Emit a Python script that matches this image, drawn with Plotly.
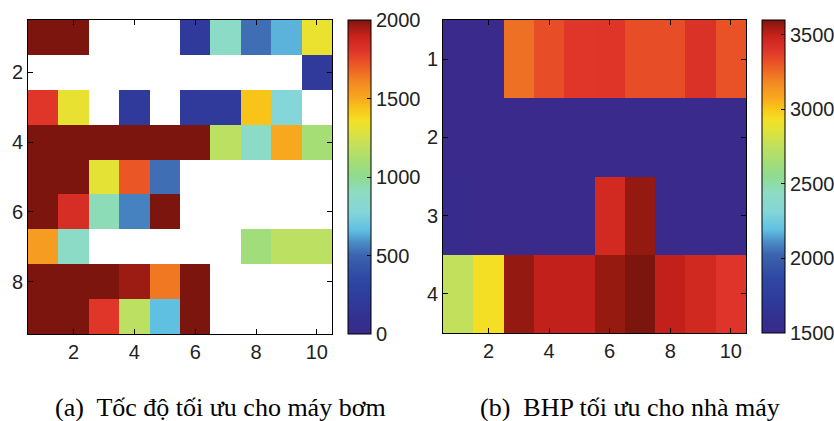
import plotly.graph_objects as go

nan = None
W, H = 834, 421

# ---- data ----
cols = list(range(1, 11))
rows_a = list(range(1, 10))
rows_b = list(range(1, 5))

pump_rate = [
    [2000, 2000, nan, nan, nan, 200, 880, 520, 640, 1330],
    [nan, nan, nan, nan, nan, nan, nan, nan, nan, 200],
    [1800, 1320, nan, 200, nan, 200, 200, 1440, 780, nan],
    [2000, 2000, 2000, 2000, 2000, 2000, 1180, 880, 1500, 1100],
    [2000, 2000, 1310, 1720, 520, nan, nan, nan, nan, nan],
    [2000, 1840, 920, 560, 2000, nan, nan, nan, nan, nan],
    [1540, 880, nan, nan, nan, nan, nan, 1080, 1180, 1180],
    [2000, 2000, 2000, 1960, 1640, 2000, nan, nan, nan, nan],
    [2000, 2000, 1800, 1180, 660, 2000, nan, nan, nan, nan],
]

bhp = [
    [1500, 1500, 3243, 3327, 3390, 3395, 3330, 3330, 3410, 3316],
    [1500, 1500, 1500, 1500, 1500, 1500, 1500, 1500, 1500, 1500],
    [1540, 1500, 1500, 1500, 1500, 3453, 3570, 1500, 1500, 1500],
    [2760, 2930, 3570, 3505, 3505, 3565, 3600, 3505, 3460, 3400],
]

x_ticks = [2, 4, 6, 8, 10]
ya_ticks = [2, 4, 6, 8]
yb_ticks = [1, 2, 3, 4]
cba_ticks = [0, 500, 1000, 1500, 2000]
cbb_ticks = [1500, 2000, 2500, 3000, 3500]

caption_a = "(a)\u00a0 Tốc độ tối ưu cho máy bơm"
caption_b = "(b)\u00a0 BHP tối ưu cho nhà máy"

cscale = [
    [0.00, "#392a8b"],
    [0.05, "#33308f"],
    [0.10, "#2f3a9b"],
    [0.18, "#2e49a3"],
    [0.25, "#3b64af"],
    [0.29, "#4a8ac6"],
    [0.33, "#60c0e2"],
    [0.39, "#85d6d8"],
    [0.45, "#8ddcc2"],
    [0.50, "#8fdb90"],
    [0.55, "#a5de74"],
    [0.60, "#c2e05c"],
    [0.65, "#e2e239"],
    [0.68, "#f4e024"],
    [0.72, "#f9c41a"],
    [0.75, "#f8a81f"],
    [0.80, "#f28a22"],
    [0.85, "#ec5e25"],
    [0.90, "#e0362a"],
    [0.95, "#c8221b"],
    [0.98, "#9c1b12"],
    [1.00, "#7c150e"],
]

tickfont = dict(family="Liberation Sans, Arial, sans-serif", size=20, color="#222222")
capfont = dict(family="Liberation Serif, Times New Roman, serif", size=26, color="black")


def px_x(a, b):
    return [a / W, b / W]


def px_y(top, bottom):
    return [(H - bottom) / H, (H - top) / H]


fig = go.Figure()

axA = (28, 332, 20, 334)
axB = (443, 746, 20, 333)
cbA = (348, 371)
cbB = (762, 785)


def cbar(cb, ax, ticks):
    return dict(
        x=cb[0] / W, xanchor="left", xref="paper",
        y=(H - (ax[2] + ax[3]) / 2) / H, yanchor="middle",
        thickness=cb[1] - cb[0], thicknessmode="pixels",
        len=ax[3] - ax[2], lenmode="pixels",
        outlinewidth=1, outlinecolor="black",
        tickvals=ticks, ticks="inside", ticklen=4, tickcolor="black",
        tickfont=tickfont, xpad=0, ypad=0,
    )


fig.add_trace(go.Heatmap(
    z=pump_rate, x=cols, y=rows_a, zmin=0, zmax=2000,
    colorscale=cscale, xaxis="x", yaxis="y", hoverongaps=False,
    colorbar=cbar(cbA, axA, cba_ticks),
))

fig.add_trace(go.Heatmap(
    z=bhp, x=cols, y=rows_b, zmin=1500, zmax=3600,
    colorscale=cscale, xaxis="x2", yaxis="y2",
    colorbar=cbar(cbB, axB, cbb_ticks),
))

axis_common = dict(
    showline=True, linecolor="black", linewidth=1, mirror="ticks",
    ticks="inside", ticklen=5, tickcolor="black", showgrid=False,
    zeroline=False, tickfont=tickfont, automargin=False,
)

fig.update_layout(
    width=W, height=H,
    margin=dict(l=0, r=0, t=0, b=0, autoexpand=False),
    paper_bgcolor="white", plot_bgcolor="white",
    xaxis=dict(domain=px_x(axA[0], axA[1]), range=[0.5, 10.5], tickvals=x_ticks,
               anchor="y", **axis_common),
    yaxis=dict(domain=px_y(axA[2], axA[3]), range=[9.5, 0.5], tickvals=ya_ticks,
               anchor="x", **axis_common),
    xaxis2=dict(domain=px_x(axB[0], axB[1]), range=[0.5, 10.5], tickvals=x_ticks,
                anchor="y2", **axis_common),
    yaxis2=dict(domain=px_y(axB[2], axB[3]), range=[4.5, 0.5], tickvals=yb_ticks,
                anchor="x2", **axis_common),
    annotations=[
        dict(text=caption_a, x=220 / W, y=(H - 407) / H, xref="paper", yref="paper",
             xanchor="center", yanchor="middle", showarrow=False, font=capfont),
        dict(text=caption_b, x=630 / W, y=(H - 407) / H, xref="paper", yref="paper",
             xanchor="center", yanchor="middle", showarrow=False, font=capfont),
    ],
)

fig.write_html(
    "out.html",
    config={"displayModeBar": False},
    post_script="document.body.style.margin='0px';document.body.style.overflow='hidden';",
)
